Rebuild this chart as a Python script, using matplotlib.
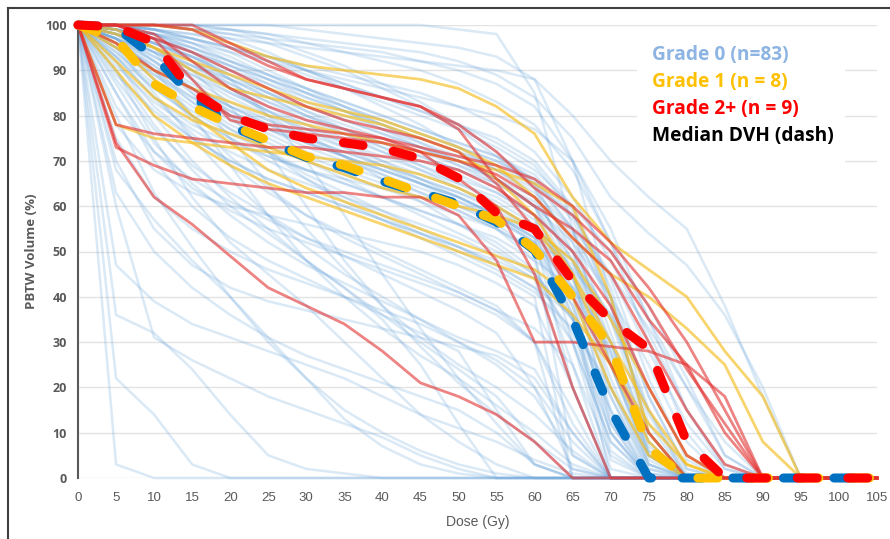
import matplotlib
matplotlib.use("Agg")
import matplotlib.pyplot as plt
from matplotlib.lines import Line2D
from matplotlib.patches import Rectangle

# dose points (Gy) where each DVH is sampled
dose = list(range(0, 110, 5))

# Grade 0 DVHs (% volume at 0, 5, 10 ... Gy, until reaching 0)
grade0 = [
    [100, 3, 0],
    [100, 22, 14, 3, 0],
    [100, 36, 32, 24, 14, 5, 2, 1, 0],
    [100, 47, 39, 34, 31, 28, 25, 22, 18, 14, 11, 8, 4, 1, 0],
    [100, 63, 50, 42, 36, 31, 27, 24, 21, 18, 15, 10, 3, 0],
    [100, 68, 57, 48, 40, 31, 22, 13, 7, 3, 1, 0],
    [100, 60, 31, 26, 22, 18, 15, 12, 9, 5, 2, 0],
    [100, 80, 63, 51, 40, 30, 22, 15, 10, 6, 3, 1, 0],
    [100, 90, 75, 62, 52, 45, 38, 30, 22, 14, 8, 3, 0],
    [100, 85, 70, 60, 53, 48, 44, 40, 36, 32, 28, 15, 3, 0],
    [100, 92, 80, 70, 62, 55, 48, 42, 36, 30, 24, 18, 8, 0],
    [100, 88, 77, 69, 63, 58, 53, 49, 45, 41, 37, 32, 20, 2, 0],
    [100, 95, 85, 75, 66, 58, 51, 45, 40, 35, 30, 25, 18, 5, 0],
    [100, 75, 62, 55, 50, 46, 43, 40, 37, 34, 30, 26, 20, 8, 0],
    [100, 97, 90, 80, 69, 58, 48, 40, 33, 27, 22, 16, 10, 3, 0],
    [100, 99, 94, 85, 75, 65, 55, 46, 38, 31, 25, 20, 14, 6, 0],
    [100, 82, 72, 66, 61, 57, 53, 50, 47, 44, 41, 37, 30, 15, 0],
    [100, 93, 84, 76, 69, 63, 58, 54, 50, 46, 42, 38, 30, 12, 0],
    [100, 98, 95, 90, 82, 72, 60, 48, 38, 29, 21, 14, 8, 2, 0],
    [100, 100, 98, 94, 88, 80, 70, 58, 45, 33, 22, 12, 3, 0],
    [100, 87, 74, 65, 58, 52, 47, 43, 39, 35, 31, 28, 24, 10, 0],
    [100, 96, 88, 79, 71, 64, 58, 53, 49, 45, 41, 37, 33, 25, 5, 0],
    [100, 70, 55, 47, 42, 39, 37, 35, 33, 31, 29, 27, 22, 10, 0],
    [100, 99, 97, 94, 90, 86, 82, 79, 76, 73, 70, 66, 60, 40, 10, 0],
    [100, 98, 94, 89, 84, 80, 77, 74, 71, 68, 65, 62, 57, 42, 15, 0],
    [100, 100, 99, 97, 94, 90, 86, 82, 78, 74, 70, 66, 60, 45, 20, 2, 0],
    [100, 97, 91, 85, 80, 76, 72, 69, 66, 63, 60, 56, 50, 35, 10, 0],
    [100, 95, 88, 82, 77, 73, 70, 67, 64, 61, 58, 55, 50, 38, 12, 0],
    [100, 100, 100, 99, 97, 94, 90, 86, 82, 78, 73, 68, 62, 48, 25, 5, 0],
    [100, 99, 96, 92, 87, 83, 79, 76, 73, 70, 67, 63, 58, 44, 18, 1, 0],
    [100, 94, 86, 80, 75, 71, 68, 65, 62, 59, 56, 52, 46, 30, 8, 0],
    [100, 98, 93, 88, 83, 79, 75, 72, 69, 66, 63, 60, 55, 45, 22, 3, 0],
    [100, 100, 98, 95, 91, 87, 83, 80, 77, 74, 71, 68, 64, 52, 30, 5, 0],
    [100, 96, 90, 84, 79, 75, 71, 68, 65, 62, 59, 55, 48, 25, 0],
    [100, 99, 95, 90, 85, 81, 78, 75, 72, 69, 66, 63, 58, 50, 35, 10, 0],
    [100, 97, 92, 87, 82, 78, 74, 71, 68, 65, 62, 58, 53, 40, 20, 3, 0],
    [100, 100, 99, 96, 92, 88, 84, 81, 78, 75, 72, 69, 65, 55, 38, 12, 0],
    [100, 93, 84, 78, 74, 71, 68, 66, 64, 62, 60, 57, 52, 38, 14, 0],
    [100, 98, 95, 91, 87, 83, 80, 77, 74, 71, 68, 64, 58, 30, 2, 0],
    [100, 100, 97, 93, 88, 84, 80, 77, 74, 71, 68, 65, 61, 50, 28, 6, 0],
    [100, 95, 89, 84, 80, 77, 74, 71, 68, 65, 62, 58, 52, 36, 6, 0],
    [100, 99, 98, 96, 93, 89, 85, 81, 77, 73, 69, 65, 60, 48, 30, 8, 0],
    [100, 97, 93, 89, 85, 81, 77, 73, 69, 65, 61, 57, 52, 42, 25, 4, 0],
    [100, 100, 100, 100, 99, 97, 94, 91, 87, 83, 78, 72, 65, 50, 25, 3, 0],
    [100, 96, 89, 83, 78, 74, 70, 66, 62, 58, 54, 50, 45, 35, 15, 1, 0],
    [100, 98, 96, 93, 89, 85, 81, 77, 73, 69, 65, 61, 56, 46, 27, 6, 0],
    [100, 92, 82, 75, 70, 66, 63, 60, 57, 54, 51, 48, 44, 32, 10, 0],
    [100, 99, 97, 94, 91, 88, 85, 82, 79, 76, 73, 70, 66, 57, 40, 15, 1, 0],
    [100, 97, 90, 83, 77, 72, 67, 63, 59, 55, 51, 47, 42, 30, 8, 0],
    [100, 100, 99, 98, 96, 93, 90, 87, 84, 81, 78, 75, 70, 60, 42, 18, 2, 0],
    [100, 94, 87, 81, 76, 72, 68, 65, 62, 59, 56, 53, 48, 42, 30, 10, 0],
    [100, 99, 96, 92, 88, 84, 80, 76, 72, 68, 64, 60, 54, 36, 4, 0],
    [100, 98, 92, 86, 81, 77, 73, 70, 67, 64, 61, 58, 54, 47, 35, 15, 0],
    [100, 100, 100, 99, 98, 96, 93, 90, 86, 82, 77, 71, 64, 45, 12, 0],
    [100, 96, 91, 86, 82, 78, 75, 72, 69, 66, 63, 59, 54, 44, 28, 7, 0],
    [100, 99, 97, 95, 92, 89, 86, 83, 80, 77, 74, 71, 67, 58, 44, 22, 4, 0],
    [100, 97, 94, 90, 86, 82, 78, 74, 70, 66, 62, 58, 53, 20, 0],
    [100, 93, 86, 80, 75, 70, 66, 62, 58, 54, 50, 46, 41, 33, 20, 5, 0],
    [100, 100, 98, 95, 92, 89, 86, 83, 80, 77, 74, 71, 66, 55, 32, 8, 0],
    [100, 98, 95, 91, 86, 81, 76, 71, 66, 61, 56, 51, 45, 35, 18, 2, 0],
    [100, 99, 96, 93, 89, 85, 81, 78, 75, 72, 69, 66, 62, 54, 40, 18, 2, 0],
    [100, 95, 90, 86, 82, 79, 76, 73, 70, 67, 64, 60, 55, 48, 36, 14, 0],
    [100, 100, 99, 97, 95, 93, 90, 87, 84, 81, 78, 74, 69, 59, 38, 10, 0],
    [100, 100, 100, 100, 100, 100, 100, 100, 100, 100, 99, 98, 85, 55, 25, 5, 0],
    [100, 100, 100, 99, 98, 97, 96, 95, 94, 92, 90, 87, 82, 70, 52, 35, 20, 5, 0],
    [100, 100, 99, 98, 97, 96, 95, 94, 93, 92, 91, 90, 88, 80, 70, 62, 55, 38, 18, 0],
    [100, 100, 100, 99, 99, 98, 97, 96, 95, 94, 92, 89, 84, 75, 62, 54, 47, 36, 20, 0],
    [100, 99, 98, 97, 95, 93, 91, 89, 87, 85, 82, 78, 72, 62, 48, 32, 15, 3, 0],
    [100, 98, 96, 93, 90, 87, 84, 81, 78, 75, 72, 68, 63, 55, 45, 33, 20, 8, 0],
    [100, 100, 99, 97, 95, 92, 89, 86, 83, 80, 77, 73, 68, 60, 50, 38, 22, 5, 0],
    [100, 99, 97, 94, 91, 88, 85, 82, 79, 76, 73, 70, 65, 58, 45, 28, 12, 2, 0],
    [100, 100, 100, 100, 99, 98, 96, 94, 92, 90, 87, 83, 78, 68, 52, 30, 10, 0],
    [100, 97, 94, 91, 88, 85, 82, 79, 76, 73, 70, 66, 60, 52, 40, 25, 8, 0],
    [100, 100, 100, 100, 100, 100, 99, 98, 97, 96, 95, 93, 88, 70, 40, 10, 0],
    [100, 100, 98, 96, 94, 92, 90, 88, 86, 84, 82, 80, 77, 70, 55, 35, 15, 2, 0],
    [100, 90, 78, 68, 60, 54, 48, 42, 35, 25, 12, 0],
    [100, 85, 72, 64, 59, 55, 52, 49, 46, 43, 40, 36, 30, 0],
    [100, 78, 68, 63, 60, 58, 56, 54, 52, 50, 47, 43, 38, 20, 0],
    [100, 99, 95, 88, 80, 72, 66, 61, 57, 53, 49, 45, 40, 0],
    [100, 91, 83, 77, 72, 68, 65, 62, 59, 56, 53, 49, 44, 20, 0],
    [100, 100, 97, 92, 86, 80, 75, 71, 67, 63, 59, 55, 50, 5, 0],
    [100, 89, 81, 75, 70, 66, 63, 60, 57, 54, 51, 47, 42, 36, 0],
    [100, 97, 92, 86, 81, 77, 74, 71, 68, 65, 62, 58, 53, 46, 36, 20, 5, 0],
]

# Grade 1 DVHs
grade1 = [
    [100, 100, 100, 99, 96, 93, 91, 90, 89, 88, 86, 82, 76, 62, 52, 46, 40, 28, 18, 0],
    [100, 98, 95, 92, 89, 86, 83, 81, 79, 76, 73, 69, 62, 53, 45, 40, 33, 25, 8, 0],
    [100, 78, 75, 74, 73, 72, 71, 70, 69, 67, 64, 60, 55, 45, 30, 15, 3, 0],
    [100, 96, 88, 80, 74, 68, 64, 61, 58, 55, 52, 49, 46, 40, 20, 5, 0],
    [100, 92, 84, 79, 76, 73, 70, 67, 64, 62, 60, 58, 55, 48, 35, 20, 5, 0],
    [100, 95, 90, 86, 83, 80, 78, 76, 74, 72, 70, 68, 65, 60, 40, 10, 0],
    [100, 99, 95, 90, 86, 84, 82, 80, 78, 75, 72, 66, 58, 45, 25, 8, 0],
    [100, 90, 80, 74, 69, 65, 62, 59, 56, 53, 50, 47, 44, 36, 25, 12, 3, 0],
]

# Grade 2+ DVHs
grade2 = [
    [100, 74, 62, 56, 49, 42, 38, 34, 28, 21, 18, 14, 8, 0],
    [100, 73, 69, 66, 65, 64, 63, 63, 62, 62, 58, 48, 30, 30, 29, 28, 25, 18, 0],
    [100, 78, 76, 75, 74, 73, 73, 72, 71, 70, 68, 64, 58, 50, 38, 20, 5, 0],
    [100, 100, 100, 99, 95, 91, 88, 86, 84, 82, 78, 72, 64, 58, 50, 38, 24, 12, 0],
    [100, 100, 100, 100, 96, 92, 88, 86, 84, 82, 77, 66, 60, 55, 48, 35, 25, 10, 0],
    [100, 100, 98, 92, 86, 82, 79, 77, 75, 73, 71, 69, 66, 60, 52, 42, 30, 15, 0],
    [100, 96, 90, 86, 80, 78, 77, 76, 75, 72, 66, 60, 45, 20, 0],
    [100, 100, 97, 88, 79, 77, 76, 75, 74, 72, 70, 67, 62, 53, 45, 30, 15, 3, 0],
    [100, 100, 97, 94, 90, 86, 82, 79, 77, 75, 72, 65, 55, 40, 25, 10, 0],
]

# median DVHs
median0 = [100, 99.5, 93, 84.5, 77.8, 74.2, 70.8, 68.5, 65.5, 63, 60.5, 56.5, 50.3, 35, 15, 0]
median1 = [100, 97, 87, 82, 78, 74.5, 71, 69, 66, 63, 60, 57, 50.5, 40, 29, 6.5, 0]
median2 = [100, 99.6, 96.2, 85.3, 80, 77, 75, 74, 72.8, 70.5, 66.2, 58.5, 55, 43.5, 34.8, 28.5, 8, 0]


def pad(v):
    return v + [0] * (len(dose) - len(v))


fig = plt.figure(figsize=(8.9, 5.39), dpi=100)
ax = fig.add_axes([78 / 890, 1 - 478 / 539, 799 / 890, 453 / 539])

for c in grade0:
    ax.plot(dose, pad(c), color='#6fa8dc', alpha=0.25, lw=1.8, clip_on=False)
for c in grade1:
    ax.plot(dose, pad(c), color='#f5bd1f', alpha=0.65, lw=2, clip_on=False)
for c in grade2:
    ax.plot(dose, pad(c), color='#e23030', alpha=0.6, lw=2, clip_on=False)

for med, col in [(median0, '#0070c0'), (median1, '#ffc000'), (median2, '#ff0000')]:
    ax.plot(dose, pad(med), color=col, lw=6.5, dashes=(2.2, 3.4),
            dash_capstyle='round', clip_on=False, zorder=5)

ax.set_xlim(0, 105)
ax.set_ylim(0, 100)
ax.set_xticks(range(0, 110, 5))
ax.set_yticks(range(0, 110, 10))
ax.grid(axis='y', color='#e3e3e3', lw=1)
ax.set_axisbelow(True)
for s in ['top', 'right', 'bottom']:
    ax.spines[s].set_visible(False)
ax.spines['left'].set_color('#595959')
ax.spines['left'].set_linewidth(1.5)
ax.tick_params(length=0, colors='#595959')
ax.tick_params(axis='x', pad=10)
ax.tick_params(axis='y', pad=8)
for t in ax.get_xticklabels():
    t.set_family(['Liberation Sans Narrow', 'Liberation Sans'])
    t.set_fontsize(9.5)
for t in ax.get_yticklabels():
    t.set_family('Open Sans')
    t.set_fontweight('bold')
    t.set_fontsize(9)

ax.set_xlabel('Dose (Gy)', color='#595959', fontsize=10,
              family=['Liberation Sans Narrow', 'Liberation Sans'], labelpad=8)
ax.set_ylabel('PBTW Volume (%)', color='#595959', fontsize=9.5,
              family='Open Sans', fontweight='bold', labelpad=5)

# text box with group labels
fig.patches.append(Rectangle((637 / 890, 1 - 163 / 539), 208 / 890, 130 / 539,
                             transform=fig.transFigure, facecolor='white',
                             edgecolor='none', zorder=10))
labels = ['Grade 0 (n=83)', 'Grade 1 (n = 8)', 'Grade 2+ (n = 9)', 'Median DVH (dash)']
label_colors = ['#8db4e2', '#ffc000', '#ff0000', 'black']
for i, (lab, col) in enumerate(zip(labels, label_colors)):
    fig.text(652 / 890, 1 - (55 + i * 27) / 539, lab, color=col, fontsize=13.8,
             fontweight='bold', family='Open Sans', va='center', zorder=11)

# outer frame
fig.lines.append(Line2D([8 / 890, 8 / 890], [0, 1 - 8 / 539], transform=fig.transFigure,
                        color='#404040', lw=1.5))
fig.lines.append(Line2D([8 / 890, 1], [1 - 8 / 539, 1 - 8 / 539], transform=fig.transFigure,
                        color='#404040', lw=1.5))

fig.savefig('out.png', dpi=100)
